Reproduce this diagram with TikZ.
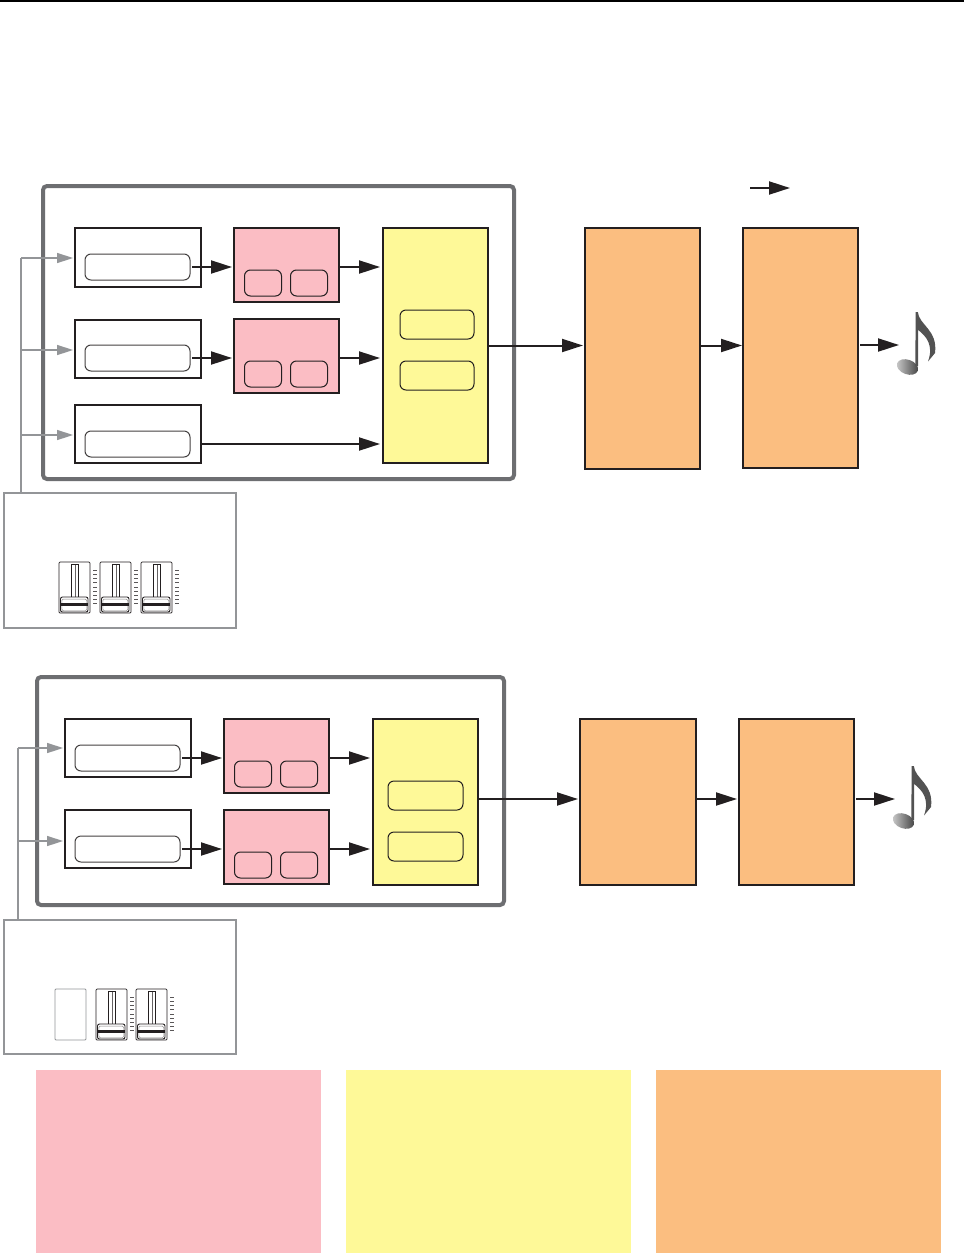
\documentclass[tikz,border=0pt]{standalone}
\usetikzlibrary{arrows.meta,calc}
\definecolor{ink}{HTML}{231F20}
\definecolor{framegray}{HTML}{6D6E71}
\definecolor{linegray}{HTML}{939598}
\definecolor{pinkfill}{HTML}{FBBDC4}
\definecolor{yellowfill}{HTML}{FEF998}
\definecolor{orangefill}{HTML}{FBBE80}
\newcommand{\bx}[6]{\node[#2,minimum width={#5-#3},minimum height={#6-#4}] (#1) at ({(#3+#5)/2},{(#4+#6)/2}) {};}
\tikzset{
  every node/.style={inner sep=0,outer sep=0},
  frameblock/.style={draw=framegray,line width=4pt,rounded corners=4pt},
  srcblock/.style={draw=ink,line width=2pt,fill=white},
  pinkblock/.style={draw=ink,line width=2pt,fill=pinkfill},
  yellowblock/.style={draw=ink,line width=2pt,fill=yellowfill},
  orangeblock/.style={draw=ink,line width=2pt,fill=orangefill},
  pill/.style={draw=ink!85,line width=1pt,fill=white,rounded corners=6pt},
  pinkpill/.style={draw=ink,line width=1pt,rounded corners=6pt},
  yellowpill/.style={draw=ink,line width=1pt,rounded corners=6pt},
  ctrlbox/.style={draw=linegray,line width=1.5pt,fill=white},
  sigline/.style={draw=ink,line width=2pt,-{Triangle[length=21pt,width=13pt]},shorten >=2pt},
  ctrlline/.style={draw=linegray,line width=1.5pt},
  ctrlarrow/.style={ctrlline,-{Triangle[length=16pt,width=10pt]},shorten >=2pt},
  legendblock/.style={fill=#1,draw=none},
  pics/fader/.style={code={
    \draw[ink,line width=.7pt,rounded corners=1pt] (0,0) rectangle (31,51);
    \draw[ink,line width=.8pt] (12,2.5) rectangle (19,36);
    \draw[ink!70,line width=.6pt] (16.5,2.5) -- (16.5,36);
    \draw[ink,line width=.9pt,fill=white,rounded corners=2pt] (1.5,35) rectangle (29,50);
    \draw[ink!55,line width=.5pt,rounded corners=1.5pt] (2.8,37) rectangle (27.8,48.8);
    \draw[ink,line width=2.2pt] (2,42.5) -- (28.5,42.5);
    \foreach \t in {0,...,8}{
      \draw[ink!75,line width=.8pt] (34,{8.5+\t*4.1}) -- (38,{8.5+\t*4.1});
    }
  }},
  pics/note/.style={code={
    \shade[left color=black!20,right color=black!75,rotate around={-20:(907.5,367)}]
      (907.5,367) ellipse [x radius=11,y radius=7.3];
    \fill[black!68] (915.3,366) -- (915.7,312) -- (917.8,312)
      .. controls (919,325) and (938,330) .. (935,353)
      -- (928,361.5)
      .. controls (934,345) and (926,336) .. (918.2,330)
      -- (918.2,366) -- cycle;
  }},
}
\begin{document}
\begin{tikzpicture}[x=1pt,y=-1pt]
\useasboundingbox (0,0) rectangle (964,1253);
\fill[white] (0,0) rectangle (964,1253);
\fill[black] (0,0) rectangle (964,2);

% upper section
\bx{topframe}{frameblock}{43}{186}{514}{479}
\bx{a1}{srcblock}{75}{228}{201}{287}
\bx{a2}{srcblock}{75}{320}{201}{378}
\bx{a3}{srcblock}{75}{405}{201}{463}
\bx{a1in}{pill}{85}{254}{190}{280}
\bx{a2in}{pill}{85}{345}{190}{371}
\bx{a3in}{pill}{85}{431}{190}{457}
\bx{p1}{pinkblock}{234}{228}{339}{302}
\bx{p2}{pinkblock}{234}{319}{339}{393}
\bx{p1a}{pinkpill}{244.5}{270}{281.5}{296}
\bx{p1b}{pinkpill}{290.5}{270}{327.5}{296}
\bx{p2a}{pinkpill}{244.5}{361}{281.5}{387}
\bx{p2b}{pinkpill}{290.5}{361}{327.5}{387}
\bx{y1}{yellowblock}{383}{228}{488}{463}
\bx{y1a}{yellowpill}{400}{310}{474}{339}
\bx{y1b}{yellowpill}{400}{361}{474}{390}
\bx{o1}{orangeblock}{585}{228}{700}{469}
\bx{o2}{orangeblock}{743}{228}{858}{468}
\bx{c1}{ctrlbox}{4}{493}{236}{628}

\coordinate (legA) at (750,188);
\coordinate (legB) at (792,188);
\draw[sigline] (legA) -- (legB);

\draw[sigline] ([xshift=2pt]a1in.east) -- (a1in.east -| p1.west);
\draw[sigline] ([xshift=2pt]a2in.east) -- (a2in.east -| p2.west);
\draw[sigline,shorten >=3pt] (p1.east |- a1in) -- (a1in -| y1.west);
\draw[sigline,shorten >=3pt] (p2.east |- a2in) -- (a2in -| y1.west);
\draw[sigline,shorten >=3pt] ([xshift=1pt]a3.east |- a3in) -- (a3in -| y1.west);
\draw[sigline,shorten >=2pt] (y1.east) -- (y1.east -| o1.west);
\draw[sigline,shorten >=1pt] (o1.east |- y1) -- (y1 -| o2.west);
\coordinate (noteA) at (899,345);
\draw[sigline,shorten >=0pt] ([xshift=2pt]o2.east |- noteA) -- (noteA);

\coordinate (busA) at (21,258);
\coordinate (busA2) at (21,350);
\coordinate (busA3) at (21,435);
\draw[ctrlline] (c1.north -| busA) -- (busA);
\draw[ctrlarrow] (busA) -- (busA -| a1.west);
\draw[ctrlarrow] (busA2) -- (busA2 -| a2.west);
\draw[ctrlarrow] (busA3) -- (busA3 -| a3.west);

\pic at (59,562) {fader};
\pic at (100,562) {fader};
\pic at (141,562) {fader};
\pic at (0,0) {note};

% lower section
\bx{lowframe}{frameblock}{37}{677}{504}{905}
\bx{b1}{srcblock}{65}{719}{191}{777}
\bx{b2}{srcblock}{65}{810}{191}{868}
\bx{b1in}{pill}{75}{745}{180}{771}
\bx{b2in}{pill}{75}{836}{180}{862}
\bx{q1}{pinkblock}{224}{719}{329}{793}
\bx{q2}{pinkblock}{224}{810}{329}{884}
\bx{q1a}{pinkpill}{234.5}{761}{271.5}{787}
\bx{q1b}{pinkpill}{280.5}{761}{317.5}{787}
\bx{q2a}{pinkpill}{234.5}{852}{271.5}{878}
\bx{q2b}{pinkpill}{280.5}{852}{317.5}{878}
\bx{y2}{yellowblock}{373}{719}{478}{885}
\bx{y2a}{yellowpill}{388}{781}{463}{810}
\bx{y2b}{yellowpill}{388}{832}{463}{861}
\bx{r1}{orangeblock}{580}{719}{696}{885}
\bx{r2}{orangeblock}{739}{719}{854}{885}
\bx{c2}{ctrlbox}{4}{920}{236}{1054}

\draw[sigline] ([xshift=2pt]b1in.east) -- (b1in.east -| q1.west);
\draw[sigline] ([xshift=2pt]b2in.east) -- (b2in.east -| q2.west);
\draw[sigline,shorten >=3pt] (q1.east |- b1in) -- (b1in -| y2.west);
\draw[sigline,shorten >=3pt] (q2.east |- b2in) -- (b2in -| y2.west);
\coordinate (mainB) at (478,799);
\draw[sigline] (y2.east |- mainB) -- (mainB -| r1.west);
\draw[sigline,shorten >=2pt] (r1.east |- mainB) -- (mainB -| r2.west);
\coordinate (noteB) at (895,799);
\draw[sigline,shorten >=0pt] ([xshift=2pt]r2.east |- noteB) -- (noteB);

\coordinate (busB) at (18,748);
\coordinate (busC) at (18,841);
\draw[ctrlline] (c2.north -| busB) -- (busB);
\draw[ctrlarrow] (busB) -- (busB -| b1.west);
\draw[ctrlarrow] (busC) -- (busC -| b2.west);

\draw[linegray,line width=.8pt,rounded corners=1pt] (55,989) rectangle (86,1040);
\pic at (96,989) {fader};
\pic at (136,989) {fader};
\pic at (-4,454) {note};

% colour key
\bx{keyA}{legendblock=pinkfill}{36}{1070}{321}{1253}
\bx{keyB}{legendblock=yellowfill}{346}{1070}{631}{1253}
\bx{keyC}{legendblock=orangefill}{656}{1070}{941}{1253}
\end{tikzpicture}
\end{document}
